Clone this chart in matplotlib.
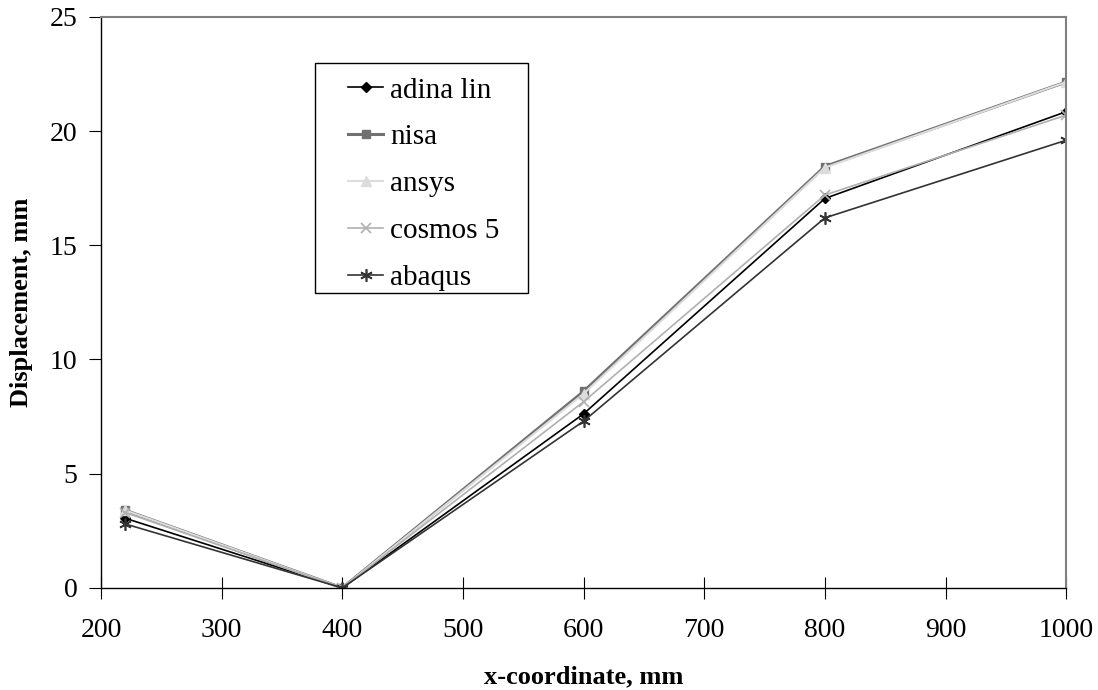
import numpy as np
import matplotlib.pyplot as plt
from matplotlib.patches import Rectangle

plt.rcParams['font.family'] = ['Liberation Serif', 'DejaVu Serif']

# x-Koordinaten und Verschiebungen je Programm
x_coord = [220, 400, 600, 800, 1000]
adina_lin = [3.05, 0.0, 7.62, 17.05, 20.85]
nisa = [3.4, 0.0, 8.6, 18.45, 22.15]
ansys = [3.4, 0.0, 8.5, 18.4, 22.15]
cosmos5 = [3.3, 0.0, 8.15, 17.2, 20.7]
abaqus = [2.8, 0.0, 7.3, 16.2, 19.6]

fig = plt.figure(figsize=(10.98, 6.9), dpi=100)
ax = fig.add_axes([0.092, 0.148, 0.879, 0.8275])

ax.plot(x_coord, adina_lin, color="black", lw=1.2, marker="D", ms=5, label="adina lin")
ax.plot(x_coord, nisa, color="#707070", lw=2.2, marker="s", ms=6, label="nisa")
ax.plot(x_coord, ansys, color="#dcdcdc", lw=1.5, marker="^", ms=7, label="ansys")
ax.plot(x_coord, cosmos5, color="#b0b0b0", lw=1.2, marker="x", ms=7, mew=1.2, label="cosmos 5")
ax.plot(x_coord, abaqus, color="#333333", lw=1.2, marker=(6, 2, 0), ms=9, mew=1.2, label="abaqus")

ax.set_xlim(200, 1000)
ax.set_ylim(0, 25)
ax.set_xticks(range(200, 1001, 100))
ax.set_yticks(range(0, 26, 5))
ax.tick_params(axis="x", direction="inout", length=16, labelsize=20, pad=14)
ax.tick_params(axis="y", direction="out", length=9, labelsize=20, pad=8)

for s in ["top", "right"]:
    ax.spines[s].set_color("#808080")
    ax.spines[s].set_linewidth(1.5)
for s in ["left", "bottom"]:
    ax.spines[s].set_color("black")
    ax.spines[s].set_linewidth(1.0)

ax.set_xlabel("x-coordinate, mm", fontsize=19, fontweight="bold", labelpad=16)
ax.set_ylabel("Displacement, mm", fontsize=19, fontweight="bold", labelpad=12)

# Legendenrahmen separat, Legende selbst ohne Rahmen
ax.add_patch(Rectangle((0.2218, 0.5166), 0.2207, 0.4028, transform=ax.transAxes,
                       fill=True, facecolor="white", edgecolor="black", lw=1.0, zorder=4))
leg = ax.legend(loc="upper left", bbox_to_anchor=(0.256, 0.8945), fontsize=21,
                frameon=False, handlelength=1.2, handletextpad=0.25,
                labelspacing=0.7, borderpad=0, borderaxespad=0)
leg.set_zorder(5)

fig.savefig("out.png", dpi=100)
